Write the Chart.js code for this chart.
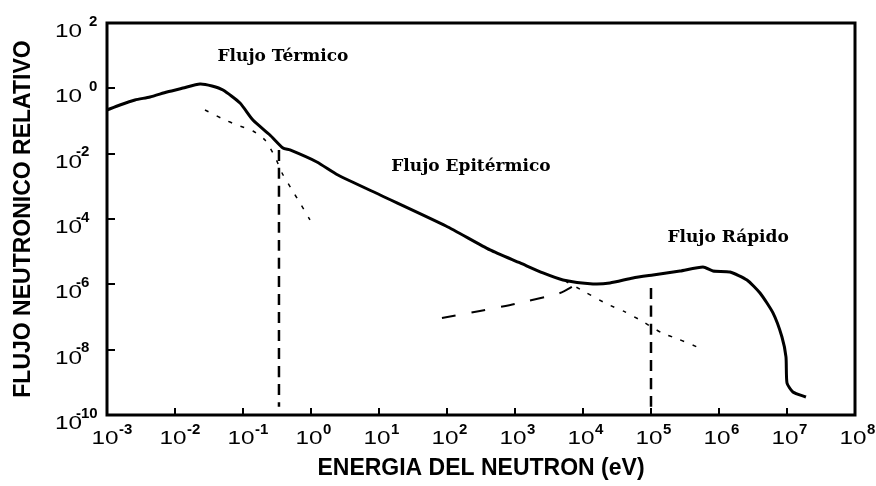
<!DOCTYPE html>
<html>
<head>
<meta charset="utf-8">
<script src="https://cdn.jsdelivr.net/npm/chart.js@4/dist/chart.umd.min.js"></script>
<style>
  body { margin: 0; background: #fff; }
  canvas { display: block; }
</style>
</head>
<body>
<canvas id="fluxChart" width="876" height="486"></canvas>
<script>
// neutron energy (eV) and relative flux
const mainEnergy = [1e-3, 1.55e-3, 2.58e-3, 4.29e-3, 7.62e-3, 1.31e-2, 2.33e-2, 3.5e-2, 5.08e-2, 9.04e-2,
  0.14, 0.249, 0.387, 0.491, 1.22, 2.49, 10.4, 96.6, 429, 1190, 2580, 5080, 1.4e4, 2.49e4, 5.43e4,
  1.07e5, 2.67e5, 5.82e5, 8.17e5, 1.45e6, 2.58e6, 4.01e6, 6.22e6, 8.43e6, 9.66e6, 1.0e7, 1.22e7, 1.9e7];
const mainFlux = [0.217, 0.309, 0.44, 0.543, 0.773, 1.02, 1.36, 1.18, 0.889, 0.356,
  0.107, 3.73e-2, 1.49e-2, 1.3e-2, 5.56e-3, 2.22e-3, 5.43e-4, 6.11e-5, 1.13e-5, 4.51e-6, 2.23e-6, 1.36e-6, 1.03e-6, 1.1e-6, 1.57e-6,
  1.94e-6, 2.56e-6, 3.4e-6, 2.56e-6, 2.39e-6, 1.36e-6, 5.43e-7, 1.33e-7, 2.45e-8, 5.98e-9, 9.57e-10, 5.07e-10, 3.56e-10];

const thermalEnergy = [2.76e-2, 5.08e-2, 8.17e-2, 0.14, 0.211, 0.296, 0.375, 0.526, 0.689, 0.966];
const thermalFlux = [0.217, 0.115, 7.55e-2, 4.94e-2, 2.62e-2, 7.91e-3, 2.56e-3, 7.73e-4, 3.09e-4, 9.33e-5];

const fissionEnergy = [84.3, 305, 1000, 4590, 8170];
const fissionFlux = [9.33e-8, 1.53e-7, 2.51e-7, 5.43e-7, 1.03e-6];

const epiTailEnergy = [5430, 1.07e4, 2.25e4, 4.15e4, 6.89e4, 1.45e5, 2.49e5, 5.62e5];
const epiTailFlux = [1.27e-6, 5.83e-7, 2.51e-7, 1.43e-7, 8.11e-8, 3.24e-8, 2.13e-8, 1.05e-8];

const cdCutEnergy = [0.338, 0.338];
const cdCutFlux = [1.3e-2, 1.78e-10];
const fastCutEnergy = [1e5, 1e5];
const fastCutFlux = [7.76e-7, 1.78e-10];

const xTickExp = [-3, -2, -1, 0, 1, 2, 3, 4, 5, 6, 7, 8];
const yTickExp = [2, 0, -2, -4, -6, -8, -10];

const regionLabels = ['Flujo Térmico', 'Flujo Epitérmico', 'Flujo Rápido'];
const regionEnergy = [0.387, 225, 1.36e6];
const regionFlux = [9.1, 3.9e-3, 2.62e-5];

const pts = (xs, ys) => xs.map((v, i) => ({ x: v, y: ys[i] }));

function lineSet(xs, ys, width, dash) {
  return {
    data: pts(xs, ys),
    borderColor: '#000',
    borderWidth: width,
    borderDash: dash,
    borderCapStyle: 'butt',
    pointRadius: 0,
    tension: 0.2,
    fill: false
  };
}

function drawStretched(ctx, text, x, y, sx, align) {
  ctx.save();
  ctx.translate(x, y);
  ctx.scale(sx, 1);
  ctx.textAlign = align;
  ctx.fillText(text, 0, 0);
  ctx.restore();
}

const decor = {
  id: 'decor',
  afterDraw(chart) {
    const { ctx, chartArea: a, scales: { x, y } } = chart;
    ctx.save();
    ctx.strokeStyle = '#000';
    ctx.fillStyle = '#000';
    ctx.lineWidth = 3;
    ctx.strokeRect(a.left, a.top, a.right - a.left, a.bottom - a.top);

    // inward tick marks
    ctx.lineWidth = 2;
    ctx.beginPath();
    xTickExp.forEach(e => {
      const px = Math.round(x.getPixelForValue(Math.pow(10, e)));
      if (px > a.left + 2 && px < a.right - 2) {
        ctx.moveTo(px, a.bottom); ctx.lineTo(px, a.bottom - 7);
      }
    });
    yTickExp.forEach(e => {
      const py = Math.round(y.getPixelForValue(Math.pow(10, e)));
      if (py > a.top + 2 && py < a.bottom - 2) {
        ctx.moveTo(a.left, py); ctx.lineTo(a.left + 8, py);
      }
    });
    ctx.stroke();

    // tick labels as 10 with raised exponent
    ctx.textBaseline = 'top';
    yTickExp.forEach(e => {
      const py = y.getPixelForValue(Math.pow(10, e));
      ctx.font = '18px "Liberation Sans", Arial, sans-serif';
      drawStretched(ctx, '10', a.left - 25, py, 1.35, 'right');
      ctx.font = 'bold 15px "Liberation Sans", Arial, sans-serif';
      ctx.textAlign = 'left';
      ctx.fillText(String(e), e < 0 ? a.left - 31 : a.left - 18, py - 9);
    });
    xTickExp.forEach(e => {
      const px = x.getPixelForValue(Math.pow(10, e));
      ctx.font = '18px "Liberation Sans", Arial, sans-serif';
      drawStretched(ctx, '10', px - 2, a.bottom + 15, 1.35, 'center');
      ctx.font = 'bold 15px "Liberation Sans", Arial, sans-serif';
      ctx.textAlign = 'left';
      ctx.fillText(String(e), px + 12, a.bottom + 7);
    });

    // region labels
    ctx.font = 'bold 17px "DejaVu Serif", serif';
    ctx.textAlign = 'center';
    ctx.textBaseline = 'middle';
    regionLabels.forEach((t, i) => {
      ctx.fillText(t, x.getPixelForValue(regionEnergy[i]), y.getPixelForValue(regionFlux[i]));
    });
    ctx.restore();
  }
};

const titleFont = { family: '"Liberation Sans", Arial, sans-serif', size: 23, weight: 'bold' };

new Chart(document.getElementById('fluxChart'), {
  type: 'line',
  data: {
    datasets: [
      lineSet(mainEnergy, mainFlux, 3, []),
      lineSet(thermalEnergy, thermalFlux, 1.5, [4, 9]),
      lineSet(fissionEnergy, fissionFlux, 2, [14, 16]),
      lineSet(epiTailEnergy, epiTailFlux, 1.5, [4, 9]),
      lineSet(cdCutEnergy, cdCutFlux, 2.5, [11, 7]),
      lineSet(fastCutEnergy, fastCutFlux, 2.5, [11, 7])
    ]
  },
  options: {
    responsive: false,
    animation: false,
    layout: { padding: { left: 4, right: 21, top: 23, bottom: 4 } },
    plugins: {
      legend: { display: false },
      tooltip: { enabled: false }
    },
    scales: {
      x: {
        type: 'logarithmic',
        min: 1e-3,
        max: 1e8,
        grid: { display: false, drawTicks: false },
        border: { display: false },
        ticks: { display: false },
        title: {
          display: true,
          text: 'ENERGIA DEL NEUTRON (eV)',
          color: '#000',
          font: titleFont,
          padding: { top: 39.4, bottom: 0 }
        }
      },
      y: {
        type: 'logarithmic',
        min: 1e-10,
        max: 1e2,
        grid: { display: false, drawTicks: false },
        border: { display: false },
        ticks: { display: false },
        title: {
          display: true,
          text: 'FLUJO NEUTRONICO RELATIVO',
          color: '#000',
          font: titleFont,
          padding: { top: 6, bottom: 69.4 }
        }
      }
    }
  },
  plugins: [decor]
});
</script>
</body>
</html>
